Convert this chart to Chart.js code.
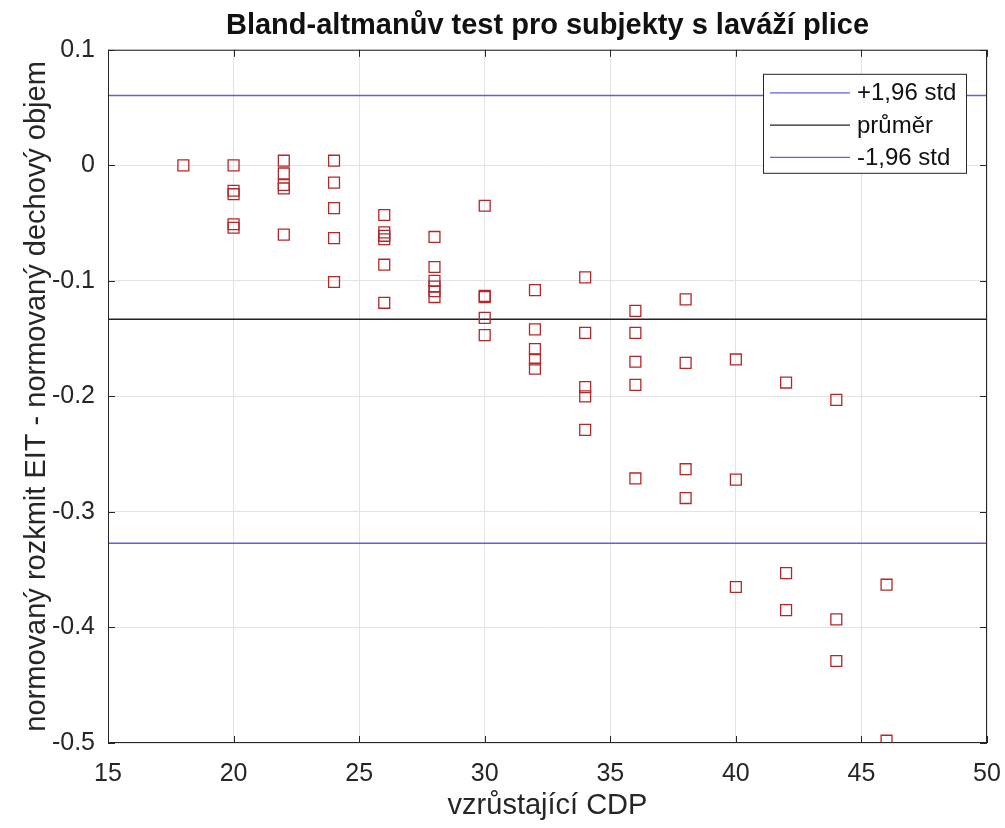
<!DOCTYPE html>
<html>
<head>
<meta charset="utf-8">
<script src="https://cdn.jsdelivr.net/npm/chart.js@4/dist/chart.umd.min.js"></script>
<style>
  body { margin: 0; background: #fff; }
  #wrap { width: 1005px; height: 828px; }
</style>
</head>
<body>
<div id="wrap"><canvas id="baChart" width="1005" height="828"></canvas></div>
<script>
// data
const cdpValues = [
  18,
  20, 20, 20, 20, 20,
  22, 22, 22, 22, 22,
  24, 24, 24, 24, 24,
  26, 26, 26, 26, 26, 26,
  28, 28, 28, 28, 28, 28,
  30, 30, 30, 30, 30,
  32, 32, 32, 32, 32,
  34, 34, 34, 34, 34,
  36, 36, 36, 36, 36,
  38, 38, 38, 38,
  40, 40, 40,
  42, 42, 42,
  44, 44, 44,
  46, 46
];
const differences = [
  0.000,
  0.000, -0.022, -0.025, -0.051, -0.054,
  0.004, -0.007, -0.017, -0.020, -0.060,
  0.004, -0.015, -0.037, -0.063, -0.101,
  -0.043, -0.058, -0.061, -0.064, -0.086, -0.119,
  -0.062, -0.088, -0.100, -0.105, -0.109, -0.114,
  -0.035, -0.113, -0.114, -0.132, -0.147,
  -0.108, -0.142, -0.159, -0.168, -0.176,
  -0.097, -0.145, -0.192, -0.200, -0.229,
  -0.126, -0.145, -0.170, -0.190, -0.271,
  -0.116, -0.171, -0.263, -0.288,
  -0.168, -0.272, -0.365,
  -0.188, -0.353, -0.385,
  -0.203, -0.393, -0.429,
  -0.363, -0.498
];
const upperLimit = 0.0604;
const meanDiff = -0.1332;
const lowerLimit = -0.327;
const xRange = [15, 50];
const yRange = [-0.5, 0.1];
const lineLabels = ['+1,96 std', 'průměr', '-1,96 std'];

const FONT = '"Liberation Sans", Arial, sans-serif';
const points = cdpValues.map((x, i) => ({ x: x, y: differences[i] }));
const hline = v => xRange.map(x => ({ x: x, y: v }));

// MATLAB style box, inner tick marks and legend
const boxPlugin = {
  id: 'boxPlugin',
  afterDraw(chart) {
    const ctx = chart.ctx;
    const a = chart.chartArea;
    const xs = chart.scales.x, ys = chart.scales.y;
    ctx.save();
    ctx.strokeStyle = '#262626';
    ctx.lineWidth = 1;
    ctx.strokeRect(a.left + 0.5, a.top + 0.5, a.right - a.left - 1, a.bottom - a.top - 1);
    const tl = 7;
    ctx.beginPath();
    xs.ticks.forEach(t => {
      const px = Math.round(xs.getPixelForValue(t.value)) + 0.5;
      ctx.moveTo(px, a.bottom); ctx.lineTo(px, a.bottom - tl);
      ctx.moveTo(px, a.top); ctx.lineTo(px, a.top + tl);
    });
    ys.ticks.forEach(t => {
      const py = Math.round(ys.getPixelForValue(t.value)) + 0.5;
      ctx.moveTo(a.left, py); ctx.lineTo(a.left + tl, py);
      ctx.moveTo(a.right, py); ctx.lineTo(a.right - tl, py);
    });
    ctx.stroke();

    // legend
    const bw = 203, bh = 99;
    const bx = a.right - 21 - bw, by = a.top + 24;
    ctx.fillStyle = '#fff';
    ctx.fillRect(bx, by, bw, bh);
    ctx.strokeRect(bx + 0.5, by + 0.5, bw, bh);
    ctx.font = '24px ' + FONT;
    ctx.textBaseline = 'middle';
    ctx.textAlign = 'left';
    chart.data.datasets.slice(1).forEach((ds, i) => {
      const ry = by + 19 + i * 32.3;
      ctx.strokeStyle = ds.borderColor;
      ctx.lineWidth = 1.3;
      ctx.beginPath();
      ctx.moveTo(bx + 7, ry); ctx.lineTo(bx + 87, ry);
      ctx.stroke();
      ctx.fillStyle = '#111';
      ctx.fillText(ds.label, bx + 94, ry + 1);
    });
    ctx.restore();
  }
};

new Chart(document.getElementById('baChart'), {
  type: 'scatter',
  data: {
    datasets: [
      {
        label: 'data',
        data: points,
        pointStyle: 'rect',
        pointRadius: 7.7,
        pointHoverRadius: 7.7,
        backgroundColor: 'rgba(0,0,0,0)',
        borderColor: '#b62626',
        borderWidth: 1.3
      },
      { type: 'line', label: lineLabels[0], data: hline(upperLimit), borderColor: '#5f5fe0', borderWidth: 1.5, pointRadius: 0 },
      { type: 'line', label: lineLabels[1], data: hline(meanDiff), borderColor: '#222222', borderWidth: 1.5, pointRadius: 0 },
      { type: 'line', label: lineLabels[2], data: hline(lowerLimit), borderColor: '#5f5fe0', borderWidth: 1.5, pointRadius: 0 }
    ]
  },
  options: {
    responsive: false,
    animation: false,
    layout: { padding: { left: 0, right: 18, top: 0, bottom: 0 } },
    scales: {
      x: {
        type: 'linear',
        min: xRange[0], max: xRange[1],
        ticks: { stepSize: 5, color: '#262626', font: { family: FONT, size: 25 }, padding: 16, maxRotation: 0 },
        grid: { color: '#e3e3e3', drawTicks: false },
        border: { display: false },
        title: { display: true, text: 'vzrůstající CDP', color: '#262626', font: { family: FONT, size: 29 }, padding: { top: 0, bottom: 5 } },
        afterFit: s => { s.height = 85; s.paddingLeft = 0; s.paddingRight = 0; }
      },
      y: {
        type: 'linear',
        min: yRange[0], max: yRange[1],
        ticks: {
          stepSize: 0.1, color: '#262626', font: { family: FONT, size: 25 }, padding: 13,
          callback: v => { const r = Math.round(v * 10) / 10; return r === 0 ? '0' : r.toFixed(1); }
        },
        grid: { color: '#e3e3e3', drawTicks: false },
        border: { display: false },
        title: { display: true, text: 'normovaný rozkmit EIT - normovaný dechový objem', color: '#262626', font: { family: FONT, size: 29 }, padding: { top: 20, bottom: 0 } },
        afterFit: s => { s.width = 108; s.paddingTop = 0; s.paddingBottom = 0; }
      }
    },
    plugins: {
      legend: { display: false },
      tooltip: { enabled: false },
      title: {
        display: true,
        fullSize: false,
        text: 'Bland-altmanův test pro subjekty s laváží plice',
        color: '#111',
        font: { family: FONT, size: 29, weight: 'bold' },
        padding: { top: 9, bottom: 6 }
      }
    }
  },
  plugins: [boxPlugin]
});
</script>
</body>
</html>
